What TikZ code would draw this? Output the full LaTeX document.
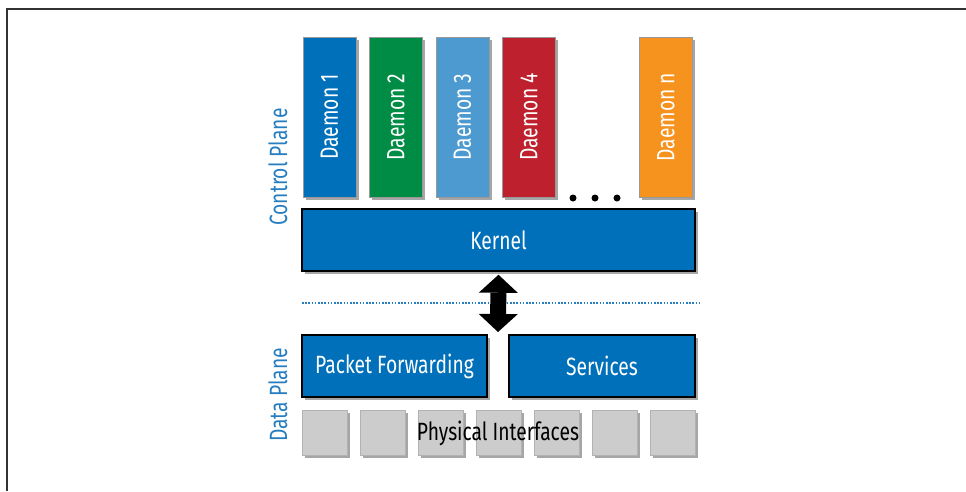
\documentclass[tikz,border=0pt]{standalone}
\usepackage{fontspec}
\setmainfont{Fira Sans}[FakeStretch=0.77]
\usepackage{tikz}
\usetikzlibrary{arrows.meta,positioning,shadows}
\usepackage{xcolor}

\definecolor{boxblue}{RGB}{0,112,186}
\definecolor{dgreen}{RGB}{0,140,69}
\definecolor{dlblue}{RGB}{76,154,208}
\definecolor{dred}{RGB}{190,32,46}
\definecolor{dorange}{RGB}{246,146,30}
\definecolor{planeblue}{RGB}{38,125,192}
\definecolor{portgray}{RGB}{204,204,204}

\tikzset{
  shade/.style={drop shadow={shadow xshift=2.5pt,shadow yshift=-2.5pt,fill=black,opacity=0.35}},
  daemon/.style={draw=gray!80,line width=1pt,rotate=90,minimum width=160pt,minimum height=53pt,
    text=white,font=\fontsize{25}{29}\selectfont,shade},
  bluebox/.style={draw=black,line width=1.5pt,fill=boxblue,minimum height=62pt,
    text=white,font=\fontsize{25}{29}\selectfont,shade},
  port/.style={draw=gray!60,line width=1pt,fill=portgray,minimum size=45pt,shade},
  plane/.style={rotate=90,text=planeblue,font=\fontsize{25}{29}\selectfont},
}

\begin{document}
\begin{tikzpicture}[x=1pt,y=-1pt]
    \useasboundingbox (0,0) rectangle (966,491);

    % Page frame
    \draw[black!80,line width=2pt] (7,491) -- (7,9) -- (966,9);

    % Daemons
    \foreach \i/\x/\c in {1/329.5/boxblue,2/396/dgreen,3/462.5/dlblue,4/529/dred,n/666/dorange}
      \node[daemon,fill=\c] (d\i) at (\x,117) {Daemon \i};
    \foreach \x in {573,595,617}
      \fill (\x,198) circle (3.5pt);

    % Kernel
    \node[bluebox,minimum width=393pt] (kernel) at (498.5,240) {Kernel};

    % Plane boundary
    \draw[planeblue,line width=1.6pt,dash pattern=on 1.6pt off 1.6pt] (302,303) -- (700,303);

    % Data plane
    \node[bluebox,minimum width=185pt] (fwd) at (394.5,366) {Packet Forwarding};
    \node[bluebox,minimum width=186pt] (svc) at (602,366) {Services};

    \coordinate (gap) at (498,332);
    \draw[line width=16pt,{Triangle[length=18pt,width=39pt,line width=0pt]}-{Triangle[length=18pt,width=39pt,line width=0pt]}]
      ([yshift=-3pt]kernel.south) -- (gap);

    % Ports
    \foreach \i in {0,...,6}
      \node[port] (p\i) at (324.5+58*\i,432.5) {};
    \node[font=\fontsize{25}{29}\selectfont] (phy) at (498,433) {Physical Interfaces};

    % Plane labels
    \node[plane] (cp) at (278,167) {Control Plane};
    \node[plane] (dp) at (278,395) {Data Plane};
  \end{tikzpicture}
\end{document}
